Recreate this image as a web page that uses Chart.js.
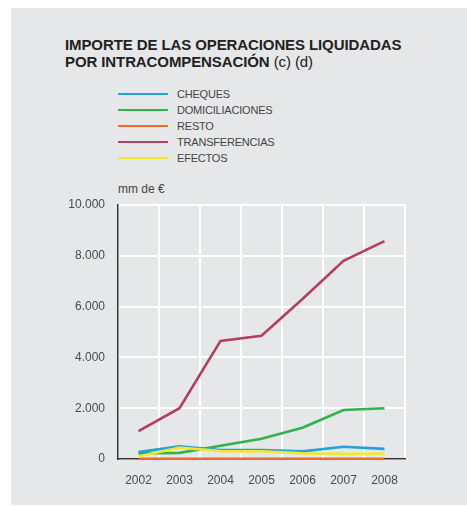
<!DOCTYPE html>
<html>
<head>
<meta charset="utf-8">
<script src="https://cdn.jsdelivr.net/npm/chart.js@4"></script>
<style>
  html, body { margin: 0; padding: 0; background: #fff; }
  #wrap { position: relative; width: 467px; height: 506px; overflow: hidden; }
  #panel { position: absolute; left: 11px; top: 8px; width: 456px; height: 497px; background: #e6e7e8; }
  #title { position: absolute; left: 65px; top: 36px; font-family: "Liberation Sans", Arial, sans-serif;
           font-size: 15px; font-weight: bold; line-height: 17px; color: #222; letter-spacing: -0.1px; }
  #title span { font-weight: normal; }
  #legend { position: absolute; left: 118px; top: 86px; font-family: "Liberation Sans", Arial, sans-serif;
            font-size: 11px; color: #444; letter-spacing: -0.2px; }
  .item { height: 16px; line-height: 16px; display: flex; align-items: center; }
  .swatch { width: 50px; height: 2.5px; margin-right: 9px; }
  #unit { position: absolute; left: 118px; top: 182px; font-family: "Liberation Sans", Arial, sans-serif;
          font-size: 12px; color: #444; }
  canvas { position: absolute; left: 0; top: 180px; }
</style>
</head>
<body>
<div id="wrap">
  <div id="panel"></div>
  <div id="title">IMPORTE DE LAS OPERACIONES LIQUIDADAS<br>POR INTRACOMPENSACIÓN <span>(c) (d)</span></div>
  <div id="legend"></div>
  <div id="unit">mm de €</div>
  <canvas id="chart" width="467" height="326"></canvas>
</div>
<script>
// years on the x axis
const years = ['2002', '2003', '2004', '2005', '2006', '2007', '2008'];

// series values, mm de €
const cheques = [270, 500, 350, 350, 300, 480, 400];
const domiciliaciones = [220, 240, 520, 800, 1230, 1930, 2000];
const resto = [10, 10, 10, 10, 10, 10, 10];
const transferencias = [1100, 2000, 4650, 4850, 6300, 7800, 8580];
const efectos = [100, 450, 310, 300, 220, 200, 200];

const seriesNames = ['CHEQUES', 'DOMICILIACIONES', 'RESTO', 'TRANSFERENCIAS', 'EFECTOS'];
const seriesColors = ['#1ea4d8', '#2fb34a', '#f26a2c', '#b63d62', '#f1e82e'];
const seriesData = [cheques, domiciliaciones, resto, transferencias, efectos];
const drawOrder = [3, 4, 1, 2, 0];

const yTicks = [0, 2000, 4000, 6000, 8000, 10000];

function fmt(v) {
    return String(v).replace(/\B(?=(\d{3})+(?!\d))/g, '.');
}

// legend
const legendEl = document.getElementById('legend');
seriesNames.forEach((name, i) => {
    const row = document.createElement('div');
    row.className = 'item';
    row.innerHTML = `<div class="swatch" style="background:${seriesColors[i]}"></div>${name}`;
    legendEl.appendChild(row);
});

const font = { family: '"Liberation Sans", Arial, sans-serif', size: 12 };

new Chart(document.getElementById('chart'), {
    type: 'line',
    data: {
        labels: years,
        datasets: seriesNames.map((name, i) => ({
            label: name,
            data: seriesData[i],
            borderColor: seriesColors[i],
            borderWidth: 2.6,
            pointRadius: 0,
            tension: 0,
            fill: false,
            clip: 4,
            order: drawOrder[i]
        }))
    },
    options: {
        responsive: false,
        animation: false,
        layout: { padding: { top: 25, right: 62, left: 0, bottom: 0 } },
        plugins: { legend: { display: false }, tooltip: { enabled: false } },
        scales: {
            x: {
                offset: true,
                grid: { color: '#ffffff', lineWidth: 2, offset: true, drawTicks: false },
                border: { color: '#333333', width: 1.5 },
                ticks: { color: '#4a4a4a', font: font, padding: 14 },
                afterFit: (s) => { s.height = 47; }
            },
            y: {
                min: 0,
                max: 10000,
                afterBuildTicks: (s) => { s.ticks = yTicks.map(v => ({ value: v })); },
                grid: { color: '#ffffff', lineWidth: 2, drawTicks: false },
                border: { color: '#333333', width: 1.5 },
                ticks: { color: '#4a4a4a', font: font, padding: 13, callback: (v) => fmt(v) },
                afterFit: (s) => { s.width = 118; }
            }
        }
    }
});
</script>
</body>
</html>
